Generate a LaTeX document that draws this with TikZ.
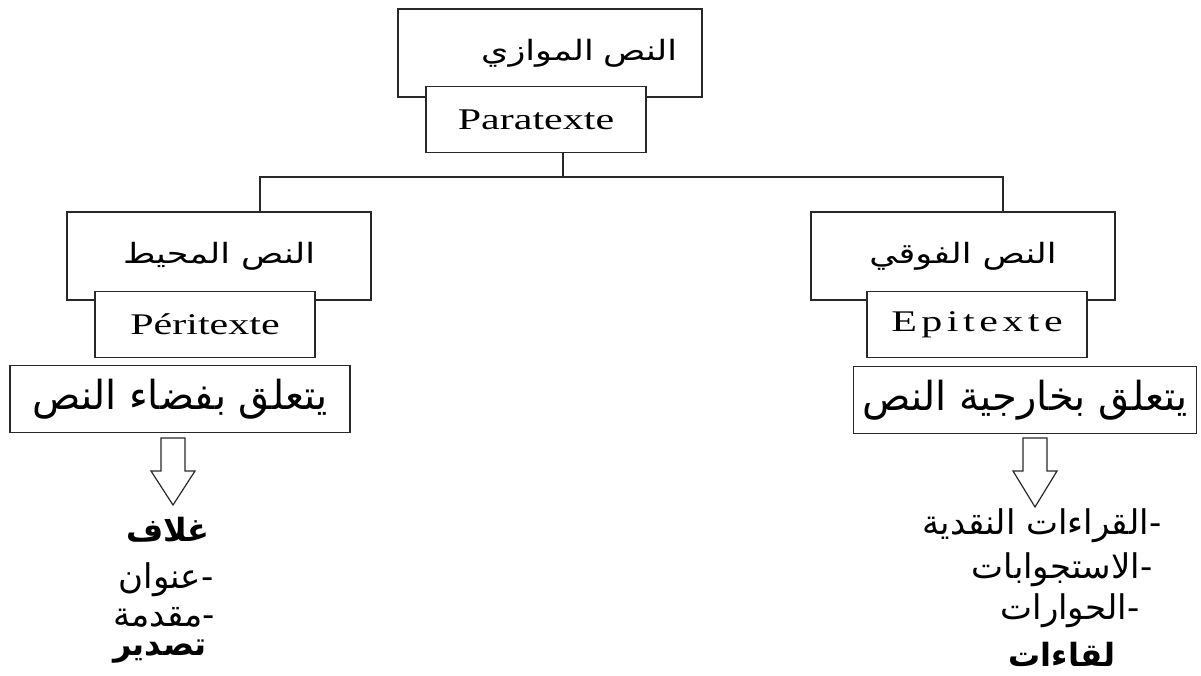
\documentclass[tikz,border=0pt]{standalone}
\usepackage{fontspec}
\setmainfont{Liberation Serif}
\newfontfamily\arabicfont[Script=Arabic]{DejaVu Sans}
\newfontfamily\widearabic[Script=Arabic, FakeStretch=1.25]{DejaVu Sans}
\newfontfamily\widefont[FakeStretch=1.4]{Liberation Serif}
\newfontfamily\spacedfont[FakeStretch=1.4, LetterSpace=15]{Liberation Serif}
\TeXXeTstate=1
\usetikzlibrary{positioning, calc}
\definecolor{boxline}{RGB}{40,40,40}

\begin{document}
\begin{tikzpicture}[x=1pt, y=-1pt,
    outerbox/.style={rectangle, draw=boxline, line width=1.6pt, minimum width=304pt, minimum height=88pt, inner sep=0pt, font=\widearabic\fontsize{28}{32}\selectfont},
    innerbox/.style={rectangle, draw=boxline, fill=white, line width=1.6pt, minimum width=220pt, minimum height=66pt, inner sep=0pt, font=\widefont\fontsize{30}{34}\selectfont},
    relbox/.style={rectangle, draw=boxline, line width=1.4pt, minimum width=340pt, minimum height=67pt, inner sep=0pt, font=\arabicfont\fontsize{40}{44}\selectfont},
    listitem/.style={inner sep=0pt, font=\arabicfont\fontsize{34}{36}\selectfont},
    boldinfo/.style={font=\arabicfont\bfseries\fontsize{32}{36}\selectfont},
    link/.style={draw=boxline, line width=1.6pt},
    hollow/.style={draw=boxline, line width=1.2pt, fill=white, line join=miter}
]
\useasboundingbox (0,0) rectangle (1201,675);

% top of the tree
\node[outerbox, text width=254pt, align=right] (paraAr) at (550,53) {\beginR النص الموازي\endR};
\node[innerbox, below=-12pt of paraAr, xshift=-14pt] (paraFr) {Paratexte};

% the two branches
\node[outerbox] (periAr) at (219,256) {\beginR النص المحيط\endR};
\node[innerbox, below=-10pt of periAr, xshift=-14pt] (periFr) {Péritexte};
\node[outerbox] (epiAr) at (963,256) {\beginR النص الفوقي\endR};
\node[innerbox, below=-10pt of epiAr, xshift=14pt, font=\spacedfont\fontsize{30}{34}\selectfont] (epiFr) {Epitexte};

\coordinate (hub) at (563,177);
\draw[link] (paraFr.south -| hub) -- (hub);
\draw[link] ([xshift=41pt]periAr.north) |- (hub) -| ([xshift=40pt]epiAr.north);

% what each one is about
\node[relbox] (periRel) at (180,399) {\beginR يتعلق بفضاء النص\endR};
\node[relbox, minimum width=343pt] (epiRel) at (1025,400) {\beginR يتعلق بخارجية النص\endR};

% hollow arrows
\coordinate (periTip) at (173,505);
\coordinate (epiTip) at (1035,507);
\draw[hollow] (periTip) -- ++(22,-34) -- ++(-10,0) -- ++(0,-33) -- ++(-24,0) -- ++(0,33) -- ++(-10,0) -- cycle;
\draw[hollow] (epiTip) -- ++(22,-36) -- ++(-10,0) -- ++(0,-33) -- ++(-24,0) -- ++(0,33) -- ++(-10,0) -- cycle;

% peritext items
\node[listitem, boldinfo] (cover) at (168,530) {\beginR غلاف\endR};
\node[listitem] (title) at (166,580) {\beginR -عنوان\endR};
\node[listitem] (preface) at (164,617) {\beginR -مقدمة\endR};
\node[listitem, boldinfo] (epigraph) at (160,652) {\beginR تصدير\endR};

% epitext items
\node[listitem] (critics) at (1042,526) {\beginR -القراءات النقدية\endR};
\node[listitem] (surveys) at (1062,570) {\beginR -الاستجوابات\endR};
\node[listitem] (talks) at (1070,611) {\beginR -الحوارات\endR};
\node[listitem, boldinfo] (meetings) at (1062,654) {\beginR لقاءات\endR};
\end{tikzpicture}
\end{document}
